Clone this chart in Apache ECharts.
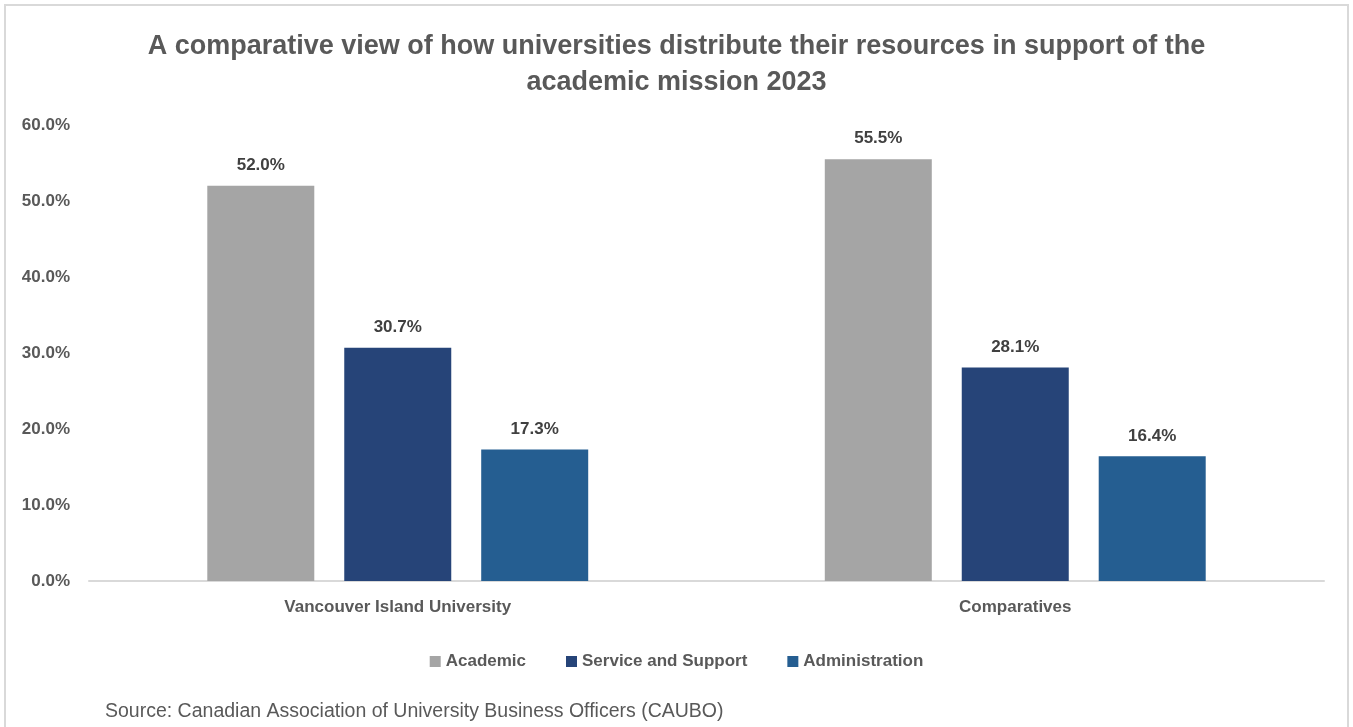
<!DOCTYPE html>
<html>
<head>
<meta charset="utf-8">
<script src="https://cdn.jsdelivr.net/npm/echarts@6/dist/echarts.min.js"></script>
<style>
html,body{margin:0;padding:0;background:#fff;}
#c{width:1353px;height:727px;}
</style>
</head>
<body>
<div id="c"></div>
<script>
const categories = ['Vancouver Island University', 'Comparatives'];
const seriesNames = ['Academic', 'Service and Support', 'Administration'];
const academic = [52.0, 55.5];
const serviceSupport = [30.7, 28.1];
const administration = [17.3, 16.4];
const yTicks = [0, 10, 20, 30, 40, 50, 60];
const colors = ['#A5A5A5', '#264478', '#255E91'];

const FF = 'Liberation Sans, Arial, sans-serif';
const chart = echarts.init(document.getElementById('c'));
const labelStyle = {
  show: true, position: 'top', distance: 12,
  formatter: p => p.value.toFixed(1) + '%',
  fontFamily: FF, fontWeight: 'bold', fontSize: 17, color: '#404040'
};
const data = [academic, serviceSupport, administration];
chart.setOption({
  animation: false,
  title: {
    text: 'A comparative view of how universities distribute their resources in support of the\nacademic mission 2023',
    left: 'center', top: 24,
    textStyle: {fontFamily: FF, fontWeight: 'bold', fontSize: 27, color: '#595959', lineHeight: 36}
  },
  legend: {
    top: 648, left: 'center',
    itemWidth: 11, itemHeight: 11, itemGap: 40,
    icon: 'rect',
    textStyle: {fontFamily: FF, fontWeight: 'bold', fontSize: 17, color: '#595959'},
    data: seriesNames
  },
  grid: {left: 89, right: 29, top: 125, bottom: 146},
  xAxis: {
    type: 'category', data: categories,
    axisLine: {lineStyle: {color: '#D9D9D9', width: 2}},
    axisTick: {show: false},
    axisLabel: {margin: 18, fontFamily: FF, fontWeight: 'bold', fontSize: 17, color: '#595959'}
  },
  yAxis: {
    type: 'value', min: yTicks[0], max: yTicks[yTicks.length - 1], interval: 10,
    splitLine: {show: false},
    axisLine: {show: false}, axisTick: {show: false},
    axisLabel: {margin: 19, formatter: v => v.toFixed(1) + '%', fontFamily: FF, fontWeight: 'bold', fontSize: 17, color: '#595959'}
  },
  series: seriesNames.map((n, i) => ({
    name: n, type: 'bar', data: data[i],
    barWidth: 107, barGap: '28%', barCategoryGap: '38%',
    itemStyle: {color: colors[i]},
    label: labelStyle
  })),
  graphic: [
    {type: 'rect', shape: {x: 5, y: 5, width: 1343, height: 730}, style: {fill: 'none', stroke: '#D9D9D9', lineWidth: 2}},
    {type: 'text', left: 105, top: 702, style: {text: 'Source: Canadian Association of University Business Officers (CAUBO)', fontFamily: FF, fontSize: 19.5, fill: '#595959'}}
  ]
});
</script>
</body>
</html>
